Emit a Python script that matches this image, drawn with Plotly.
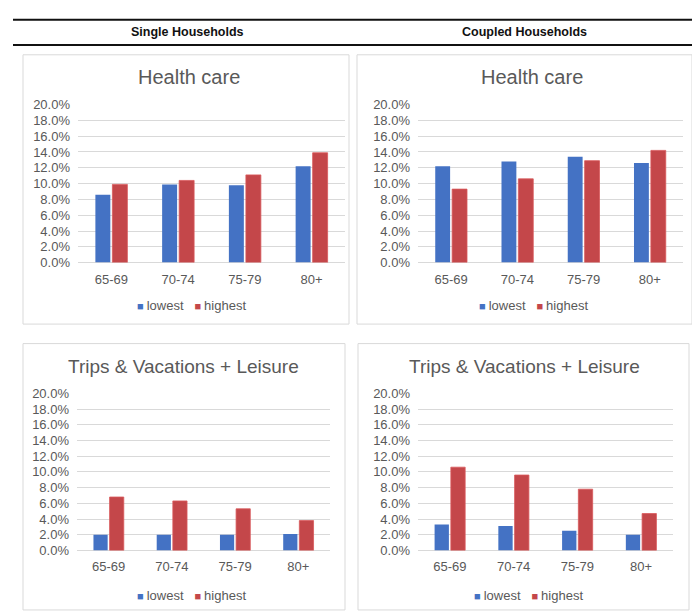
import plotly.graph_objects as go

W, H = 692, 616

age_groups = ["65-69", "70-74", "75-79", "80+"]
y_ticks = [0.0, 0.02, 0.04, 0.06, 0.08, 0.10, 0.12, 0.14, 0.16, 0.18, 0.20]
y_tick_labels = ["0.0%", "2.0%", "4.0%", "6.0%", "8.0%", "10.0%", "12.0%", "14.0%", "16.0%", "18.0%", "20.0%"]

health_single_lowest = [0.086, 0.099, 0.098, 0.122]
health_single_highest = [0.099, 0.104, 0.111, 0.139]
health_coupled_lowest = [0.122, 0.128, 0.134, 0.126]
health_coupled_highest = [0.093, 0.106, 0.129, 0.142]
trips_single_lowest = [0.020, 0.020, 0.020, 0.021]
trips_single_highest = [0.068, 0.063, 0.053, 0.038]
trips_coupled_lowest = [0.033, 0.031, 0.025, 0.020]
trips_coupled_highest = [0.106, 0.096, 0.078, 0.047]

column_headers = ["Single Households", "Coupled Households"]
panel_titles = ["Health care", "Health care", "Trips & Vacations + Leisure", "Trips & Vacations + Leisure"]
series_names = ["lowest", "highest"]

BLUE = "#4472C4"
RED = "#C4474A"
GRID = "#D9D9D9"
TXT = "#595959"
FONT = "Liberation Sans, Arial, sans-serif"


def px_x(p):
    return p / W


def px_y(p):
    return 1 - p / H


# plot areas in pixels: (x0, x1, ytop, ybottom)
areas = [
    (78, 345, 100, 262),
    (418, 683, 100, 262),
    (77, 330, 396, 557),
    (418, 673, 396, 557),
]
panels = [
    (23, 349, 49, 325),
    (357, 692, 49, 325),
    (23, 345, 345, 618),
    (358, 689, 345, 618),
]
title_pos = [(189, 72, 20), (532, 72, 20), (184, 368, 19), (524, 368, 19)]
legend_pos = [(191, 306), (533, 306), (191, 603), (528, 603)]

data = [
    (health_single_lowest, health_single_highest),
    (health_coupled_lowest, health_coupled_highest),
    (trips_single_lowest, trips_single_highest),
    (trips_coupled_lowest, trips_coupled_highest),
]

fig = go.Figure()
layout = dict(
    width=W, height=H, margin=dict(l=0, r=0, t=0, b=0),
    paper_bgcolor="white", plot_bgcolor="white",
    barmode="group", bargap=0.49, bargroupgap=0.12,
    font=dict(family=FONT, color=TXT, size=13),
    showlegend=False,
    shapes=[], annotations=[],
)

for i, (lo, hi) in enumerate(data):
    n = "" if i == 0 else str(i + 1)
    xa, ya = "x" + n, "y" + n
    fig.add_trace(go.Bar(x=age_groups, y=lo, name=series_names[0], marker=dict(color=BLUE, line=dict(width=0)),
                         xaxis=xa, yaxis=ya))
    fig.add_trace(go.Bar(x=age_groups, y=hi, name=series_names[1], marker=dict(color=RED, line=dict(color="#D9595C", width=0.8)),
                         xaxis=xa, yaxis=ya))
    x0, x1, yt, yb = areas[i]
    layout["xaxis" + n] = dict(domain=[px_x(x0), px_x(x1)], anchor=ya, type="category",
                               categoryorder="array", categoryarray=age_groups, range=[-0.5, 3.5],
                               showgrid=False, showline=False, ticks="", zeroline=False,
                               tickfont=dict(size=13, color=TXT), ticklabelstandoff=7, fixedrange=True)
    layout["yaxis" + n] = dict(domain=[px_y(yb), px_y(yt)], anchor=xa, range=[0, 0.2],
                               tickvals=y_ticks, ticktext=y_tick_labels, showgrid=True, gridcolor=GRID,
                               gridwidth=1, zeroline=True, zerolinecolor=GRID, zerolinewidth=1,
                               showline=False, ticks="", tickfont=dict(size=13, color=TXT),
                               ticklabelstandoff=7, fixedrange=True)
    # legend (as text with coloured square glyphs)
    lx, ly = legend_pos[i]
    legend_text = ('<span style="color:%s;font-size:11px">■&nbsp;</span>%s&nbsp;&nbsp;&nbsp;'
                   '<span style="color:%s;font-size:11px">■&nbsp;</span>%s') % (BLUE, series_names[0], RED, series_names[1])
    layout["annotations"].append(dict(text=legend_text, x=px_x(lx), y=px_y(ly), xref="paper", yref="paper",
                                      xanchor="center", yanchor="middle", showarrow=False,
                                      font=dict(size=13, color=TXT, family=FONT)))
    px0, px1, py0, py1 = panels[i]
    layout["shapes"].append(dict(type="rect", xref="paper", yref="paper",
                                 x0=px_x(px0), x1=px_x(px1), y0=px_y(py1), y1=px_y(py0),
                                 line=dict(color=GRID, width=1), fillcolor="rgba(0,0,0,0)", layer="below"))
    tx, ty, ts = title_pos[i]
    layout["annotations"].append(dict(text=panel_titles[i], x=px_x(tx), y=px_y(ty), xref="paper", yref="paper",
                                      xanchor="center", yanchor="middle", showarrow=False,
                                      font=dict(size=ts, color=TXT, family=FONT)))

# header rules and column titles
for yy in (13, 39):
    layout["shapes"].append(dict(type="line", xref="paper", yref="paper", x0=px_x(13), x1=1,
                                 y0=px_y(yy), y1=px_y(yy), line=dict(color="#111111", width=2)))
for txt, cx in zip(column_headers, [187, 524]):
    layout["annotations"].append(dict(text="<b>" + txt + "</b>", x=px_x(cx), y=px_y(26), xref="paper", yref="paper",
                                      xanchor="center", yanchor="middle", showarrow=False,
                                      font=dict(size=12.5, color="#111111", family=FONT)))

fig.update_layout(**layout)
fig.write_html("out.html")
